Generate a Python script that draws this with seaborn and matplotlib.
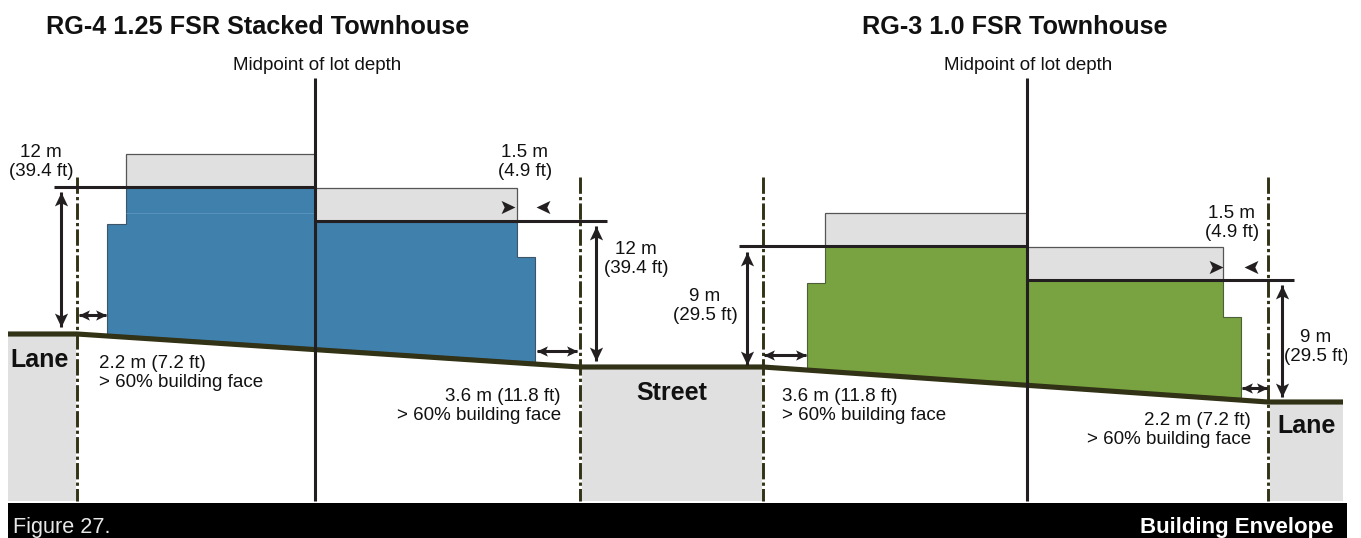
import matplotlib
matplotlib.use("Agg")
import matplotlib.pyplot as plt
from matplotlib.path import Path
from matplotlib.markers import MarkerStyle
from matplotlib.patches import Rectangle
from matplotlib.transforms import Affine2D
import seaborn as sns

sns.set_theme(style="white")
plt.rcParams["font.family"] = ["Liberation Sans", "DejaVu Sans"]

W, H = 1361, 538
BLUE, GREEN, GREY = "#4080ad", "#78a340", "#e0e0e0"
EARTH, DARK = "#323216", "#231f20"

title_left = "RG-4 1.25 FSR Stacked Townhouse"
title_right = "RG-3 1.0 FSR Townhouse"
midpoint_label = "Midpoint of lot depth"
figure_label = "Figure 27."
section_label = "Building Envelope"

# ground profile
ground_x = [8, 77, 580, 763, 1268, 1343]
ground_y = [334, 334, 367, 367, 402, 402]

# road / lane ground blocks: left, right, top
block_left = [8, 582, 1270]
block_right = [76, 762, 1343]
block_top = [336, 369, 404]
block_bottom = 501

# roof envelopes (grey): left, right, top, bottom
roof_left = [126, 315, 825, 1027]
roof_right = [315, 517, 1027, 1223]
roof_top = [154, 188, 213, 247]
roof_bottom = [187, 222, 246, 280]

# building masses
blue_x = [107, 107, 126, 126, 315, 315, 517, 517, 535, 535]
blue_y = [334, 224, 224, 187, 187, 222, 222, 257, 257, 362]
green_x = [807, 807, 825, 825, 1027, 1027, 1223, 1223, 1241, 1241]
green_y = [370, 283, 283, 246, 246, 280, 280, 317, 317, 398]

# height limit lines: x0, x1, y
limit_x0 = [54, 315, 739, 1027]
limit_x1 = [315, 607, 1027, 1294]
limit_y = [187, 221, 246, 280]

# vertical guides
midpoint_x = [315, 1027]
midpoint_top = 78
guide_bottom = 501
lot_x = [77, 580, 763, 1268]
lot_top = 177

# double-headed dimension arrows: x0, y0, x1, y1
dim_x0 = [61, 596, 747, 1282, 79, 537, 764, 1242]
dim_y0 = [192, 226, 252, 285, 315, 351, 355, 388]
dim_x1 = [61, 596, 747, 1282, 106, 577, 806, 1267]
dim_y1 = [327, 361, 365, 397, 315, 351, 355, 388]

# setback tick arrows: x, y, pointing angle
tick_x = [508, 543, 1216, 1251]
tick_y = [207, 207, 267, 267]
tick_angle = [0, 180, 0, 180]

# text annotations
note_text = ["12 m\n(39.4 ft)", "1.5 m\n(4.9 ft)", "12 m\n(39.4 ft)",
             "2.2 m (7.2 ft)\n> 60% building face",
             "3.6 m (11.8 ft)\n> 60% building face",
             "9 m\n(29.5 ft)", "3.6 m (11.8 ft)\n> 60% building face",
             "1.5 m\n(4.9 ft)", "9 m\n(29.5 ft)",
             "2.2 m (7.2 ft)\n> 60% building face"]
note_x = [41, 525, 636, 99, 561, 705, 782, 1232, 1316, 1251]
note_y = [161, 161, 258, 372, 405, 305, 405, 222, 346, 429]
note_ha = ["center", "center", "center", "left", "right",
           "center", "left", "center", "center", "right"]

place_text = ["Lane", "Street", "Lane"]
place_x = [40, 672, 1307]
place_y = [360, 393, 426]

fig = plt.figure(figsize=(W / 100, H / 100), dpi=100, facecolor="white")
ax = fig.add_axes([0, 0, 1, 1])


def stealth(angle):
    p = Path([(1, 0), (-1, 0.95), (-0.55, 0), (-1, -0.95), (1, 0)], closed=True)
    return MarkerStyle(p, transform=Affine2D().rotate_deg(angle))


for l, r, t in zip(block_left, block_right, block_top):
    ax.fill([l, r, r, l], [t, t, block_bottom, block_bottom], color=GREY, lw=0, zorder=1)

for l, r, t, b in zip(roof_left, roof_right, roof_top, roof_bottom):
    ax.fill([l, r, r, l], [t, t, b, b], facecolor=GREY, edgecolor="#555555", lw=0.9, zorder=2)

ax.fill(blue_x, blue_y, facecolor=BLUE, edgecolor="#3d5566", lw=0.8, zorder=3)
ax.fill(green_x, green_y, facecolor=GREEN, edgecolor="#4d5f38", lw=0.8, zorder=3)
ax.plot([126, 315], [213, 213], color="#5b96bf", lw=0.6, zorder=3)

sns.lineplot(x=ground_x, y=ground_y, ax=ax, color=EARTH, lw=3.7, sort=False,
             estimator=None, solid_capstyle="butt", zorder=4, legend=False)

for x in lot_x:
    ax.plot([x, x], [lot_top, guide_bottom], color=EARTH, lw=2.1, zorder=5,
            dashes=(5.6, 1.1, 1.1, 1.1), dash_capstyle="butt")

for x in midpoint_x:
    ax.plot([x, x], [midpoint_top, guide_bottom], color=DARK, lw=2.2, zorder=6,
            solid_capstyle="butt")

for x0, x1, y in zip(limit_x0, limit_x1, limit_y):
    ax.plot([x0, x1], [y, y], color=DARK, lw=2.2, zorder=6, solid_capstyle="butt")

V_HEAD, V_OFFSET = 10, 7
H_HEAD, H_OFFSET = 7.8, 5.4
for x0, y0, x1, y1 in zip(dim_x0, dim_y0, dim_x1, dim_y1):
    ax.plot([x0, x1], [y0, y1], color=DARK, lw=2.2, zorder=7, solid_capstyle="butt")
    if x0 == x1:
        ax.plot([x0], [y0 + V_OFFSET], marker=stealth(90), ms=V_HEAD, color=DARK, mew=0, zorder=7)
        ax.plot([x1], [y1 - V_OFFSET], marker=stealth(270), ms=V_HEAD, color=DARK, mew=0, zorder=7)
    else:
        ax.plot([x0 + H_OFFSET], [y0], marker=stealth(180), ms=H_HEAD, color=DARK, mew=0, zorder=7)
        ax.plot([x1 - H_OFFSET], [y1], marker=stealth(0), ms=H_HEAD, color=DARK, mew=0, zorder=7)

for x, y, a in zip(tick_x, tick_y, tick_angle):
    ax.plot([x], [y], marker=stealth(a), ms=V_HEAD, color=DARK, mew=0, zorder=7)

# caption bar
ax.fill([8, 1347, 1347, 8], [503, 503, 538, 538], color="black", lw=0, zorder=8)
ax.text(13, 527, figure_label, color="#e8e8e8", fontsize=15.6, ha="left", va="center", zorder=9)
ax.text(1334, 527, section_label, color="white", fontsize=16, fontweight="bold",
        ha="right", va="center", zorder=9)

ax.text(46, 26.5, title_left, fontsize=18.2, fontweight="bold", color="#111111", ha="left", va="center")
ax.text(862, 26.5, title_right, fontsize=18.2, fontweight="bold", color="#111111", ha="left", va="center")
for x in [317, 1028]:
    ax.text(x, 65, midpoint_label, fontsize=13.5, color="#111111", ha="center", va="center")

clip = Rectangle((0, 0), 1347, 503, transform=ax.transData)
for s, x, y, ha in zip(note_text, note_x, note_y, note_ha):
    t = ax.text(x, y + 1, s, fontsize=13.5, color="#111111", ha=ha, va="center",
                multialignment=ha, linespacing=1.13, zorder=9)
    t.set_clip_path(clip)
    t.set_clip_on(True)

for s, x, y in zip(place_text, place_x, place_y):
    ax.text(x, y, s, fontsize=18, fontweight="bold", color="#111111",
            ha="center", va="center", zorder=9)

ax.set_xlim(0, W)
ax.set_ylim(H, 0)
ax.axis("off")
fig.savefig("out.png", dpi=100, facecolor="white")
